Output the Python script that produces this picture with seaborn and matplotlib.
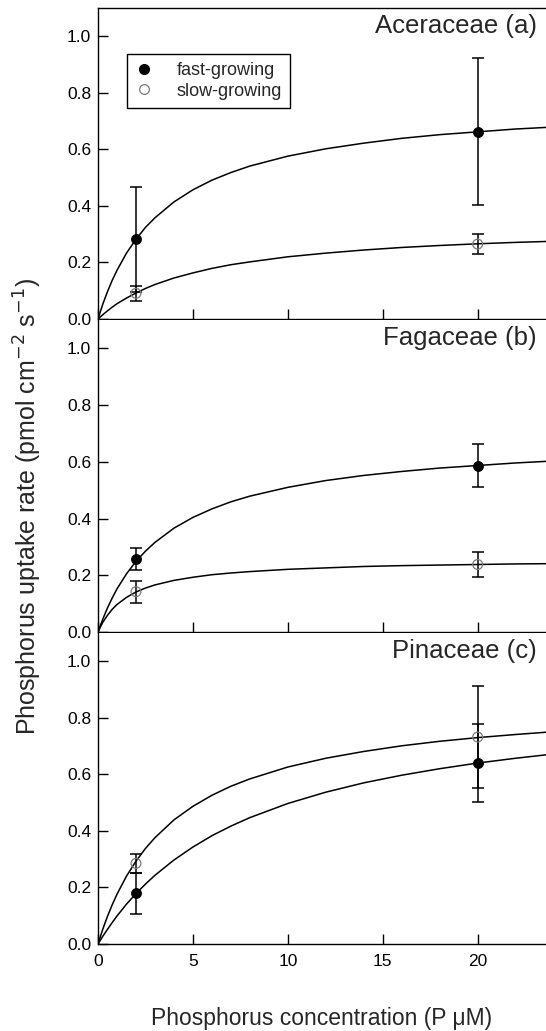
import matplotlib
matplotlib.use("Agg")
import matplotlib.pyplot as plt
from matplotlib.lines import Line2D
import seaborn as sns

sns.set_style("ticks")
plt.rcParams['font.family'] = ['Liberation Sans', 'DejaVu Sans']

# measured points (x = 2 and 20 uM)
x_obs = [2, 20]

acer_fast = [0.282, 0.662]
acer_fast_err = [0.185, 0.26]
acer_slow = [0.091, 0.265]
acer_slow_err = [0.027, 0.035]

faga_fast = [0.256, 0.587]
faga_fast_err = [0.039, 0.075]
faga_slow = [0.142, 0.238]
faga_slow_err = [0.038, 0.043]

pina_fast = [0.179, 0.640]
pina_fast_err = [0.072, 0.137]
pina_slow = [0.285, 0.732]
pina_slow_err = [0.035, 0.18]

# fitted curves
curve_x = [0, 0.25, 0.5, 0.75, 1, 1.5, 2, 2.5, 3, 4, 5, 6, 7, 8, 10, 12, 14, 16, 18, 20, 22, 24]

acer_fast_curve = [0, 0.052, 0.097, 0.137, 0.172, 0.233, 0.282, 0.324, 0.358, 0.414, 0.457, 0.491,
                   0.518, 0.541, 0.576, 0.602, 0.622, 0.639, 0.652, 0.662, 0.672, 0.679]
acer_slow_curve = [0, 0.015, 0.029, 0.042, 0.054, 0.074, 0.092, 0.108, 0.122, 0.145, 0.163, 0.179,
                   0.192, 0.202, 0.220, 0.233, 0.244, 0.253, 0.260, 0.266, 0.271, 0.275]
faga_fast_curve = [0, 0.045, 0.085, 0.120, 0.152, 0.205, 0.249, 0.285, 0.316, 0.366, 0.404, 0.434,
                   0.459, 0.479, 0.510, 0.534, 0.552, 0.566, 0.578, 0.587, 0.596, 0.603]
faga_slow_curve = [0, 0.034, 0.059, 0.080, 0.097, 0.122, 0.141, 0.155, 0.166, 0.182, 0.193, 0.202,
                   0.208, 0.213, 0.221, 0.226, 0.231, 0.234, 0.236, 0.238, 0.240, 0.241]
pina_fast_curve = [0, 0.027, 0.052, 0.076, 0.099, 0.141, 0.178, 0.212, 0.243, 0.297, 0.343, 0.383,
                   0.417, 0.447, 0.497, 0.537, 0.570, 0.597, 0.620, 0.640, 0.657, 0.672]
pina_slow_curve = [0, 0.052, 0.098, 0.139, 0.176, 0.240, 0.293, 0.338, 0.376, 0.439, 0.487, 0.526,
                   0.558, 0.584, 0.626, 0.657, 0.681, 0.701, 0.717, 0.730, 0.741, 0.751]

titles = ["Aceraceae (a)", "Fagaceae (b)", "Pinaceae (c)"]
x_ticks = [0, 5, 10, 15, 20]
y_ticks = [0.0, 0.2, 0.4, 0.6, 0.8, 1.0]

panels = [
    (acer_fast, acer_fast_err, acer_slow, acer_slow_err, acer_fast_curve, acer_slow_curve),
    (faga_fast, faga_fast_err, faga_slow, faga_slow_err, faga_fast_curve, faga_slow_curve),
    (pina_fast, pina_fast_err, pina_slow, pina_slow_err, pina_fast_curve, pina_slow_curve),
]

W, H = 546, 1031
fig = plt.figure(figsize=(W / 100, H / 100), dpi=100)

left_px = 98
tops = [8, 320, 633]
bottoms = [319, 632, 944]
open_col = "#7a7a7a"

axes = []
for i, (f, fe, s, se, fc, sc) in enumerate(panels):
    ax = fig.add_axes([left_px / W, 1 - bottoms[i] / H, 1 - left_px / W, (bottoms[i] - tops[i]) / H])
    axes.append(ax)

    ax.errorbar(x_obs, f, yerr=fe, fmt='none', ecolor='black', elinewidth=1.1, capsize=4, capthick=1.1, zorder=2)
    ax.errorbar(x_obs, s, yerr=se, fmt='none', ecolor='black', elinewidth=1.1, capsize=4, capthick=1.1, zorder=2)

    sns.lineplot(x=curve_x, y=fc, ax=ax, color='black', linewidth=1.1, zorder=3)
    sns.lineplot(x=curve_x, y=sc, ax=ax, color='black', linewidth=1.1, zorder=3)

    sns.scatterplot(x=x_obs, y=f, ax=ax, color='black', edgecolor='black', s=52, zorder=4)
    sns.scatterplot(x=x_obs, y=s, ax=ax, facecolors='none', edgecolor=open_col, linewidth=0.9, s=50, zorder=4)

    ax.set_xlim(0, 23.6)
    ax.set_ylim(0, 1.1)
    ax.set_xticks(x_ticks)
    ax.set_yticks(y_ticks)
    ax.set_yticklabels([f"{v:.1f}" for v in y_ticks])
    ax.tick_params(axis='both', direction='in', length=7, width=1, labelsize=12.5, colors='black')
    ax.tick_params(axis='y', pad=5)
    ax.tick_params(axis='x', pad=7)
    if i < 2:
        ax.tick_params(axis='x', labelbottom=False)
    for side in ['left', 'bottom', 'top']:
        ax.spines[side].set_color('black')
        ax.spines[side].set_linewidth(1.0)
    ax.spines['right'].set_visible(False)
    if i > 0:
        ax.spines['top'].set_visible(False)
    ax.set_xlabel("")
    ax.set_ylabel("")

    ax.text(23.1, 1.035, titles[i], ha='right', va='center', fontsize=18.5)

handles = [
    Line2D([], [], marker='o', ls='', color='black', markersize=7),
    Line2D([], [], marker='o', ls='', markerfacecolor='none', markeredgecolor=open_col, markeredgewidth=0.9, markersize=7),
]
leg = axes[0].legend(handles, ["fast-growing", "slow-growing"], loc='upper left',
                     bbox_to_anchor=(0.065, 0.852), borderaxespad=0, frameon=True, fancybox=False,
                     framealpha=1, edgecolor='black', fontsize=13, handlelength=1.0,
                     handletextpad=1.3, borderpad=0.45, labelspacing=0.2)
leg.get_frame().set_linewidth(1.0)

fig.text(28 / W, 1 - 507 / H, "Phosphorus uptake rate (pmol cm$^{-2}$ s$^{-1}$)",
         rotation=90, ha='center', va='center', fontsize=18)
fig.text((left_px + W) / 2 / W, 1 - 1018 / H, "Phosphorus concentration (P \u03bcM)",
         ha='center', va='center', fontsize=16.5)

fig.savefig("out.png", dpi=100)
